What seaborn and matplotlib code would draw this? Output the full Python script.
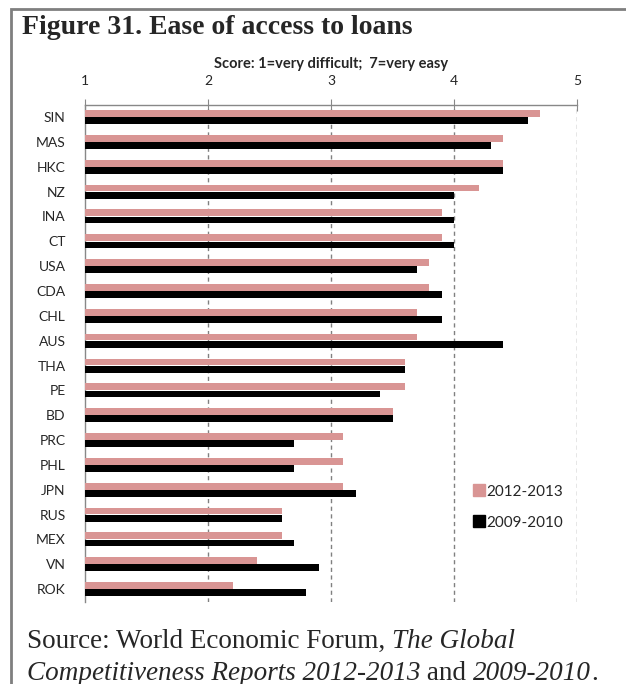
import numpy as np
import pandas as pd
import matplotlib
matplotlib.use('Agg')
import matplotlib.pyplot as plt
import seaborn as sns
from matplotlib.lines import Line2D
from matplotlib.patches import Rectangle

# Dados
paises = ['SIN', 'MAS', 'HKC', 'NZ', 'INA', 'CT', 'USA', 'CDA', 'CHL', 'AUS',
          'THA', 'PE', 'BD', 'PRC', 'PHL', 'JPN', 'RUS', 'MEX', 'VN', 'ROK']
score_2012 = [4.7, 4.4, 4.4, 4.2, 3.9, 3.9, 3.8, 3.8, 3.7, 3.7,
              3.6, 3.6, 3.5, 3.1, 3.1, 3.1, 2.6, 2.6, 2.4, 2.2]
score_2009 = [4.6, 4.3, 4.4, 4.0, 4.0, 4.0, 3.7, 3.9, 3.9, 4.4,
              3.6, 3.4, 3.5, 2.7, 2.7, 3.2, 2.6, 2.7, 2.9, 2.8]
periodos = ['2012-2013', '2009-2010']
x_ticks = [1, 2, 3, 4, 5]

cores = {'2012-2013': '#d99594', '2009-2010': '#000000'}

df = pd.DataFrame({'pais': paises, '2012-2013': score_2012, '2009-2010': score_2009})
df = df.melt(id_vars='pais', var_name='periodo', value_name='score')

sns.set_style('white')
plt.rcParams['font.family'] = ['Lato', 'DejaVu Sans']

fig = plt.figure(figsize=(6.26, 6.84), dpi=100)
ax = fig.add_axes([85 / 626, 1 - 601.5 / 684, (577 - 85) / 626, (601.5 - 104.7) / 684])

sns.barplot(data=df, y='pais', x='score', hue='periodo', hue_order=periodos,
            orient='h', palette=cores, width=0.58, gap=0.06, saturation=1,
            linewidth=0, ax=ax, legend=False, zorder=3)

ax.set_xlim(1, 5)
ax.set_ylim(len(paises) - 0.5, -0.5)
ax.xaxis.tick_top()
ax.xaxis.set_label_position('top')
ax.set_xticks(x_ticks)
ax.set_xticklabels([str(t) for t in x_ticks], fontsize=10)
ax.set_xlabel('Score: 1=very difficult;  7=very easy', fontsize=10.5,
              fontweight='bold', labelpad=5)
ax.set_ylabel('')
ax.tick_params(axis='x', direction='inout', length=9, color='#888888', pad=8)
ax.tick_params(axis='y', length=0, labelsize=10, pad=14)
ax.set_yticks(np.arange(-0.5, len(paises) + 0.5), minor=True)
ax.tick_params(axis='y', which='minor', direction='out', length=5, color='#888888')

# linhas de grade tracejadas
for x in x_ticks[1:]:
    ax.axvline(x, color='#808080', linestyle=(0, (3, 2.5)), linewidth=1, zorder=1)

for lado in ['right', 'bottom']:
    ax.spines[lado].set_visible(False)
for lado in ['top', 'left']:
    ax.spines[lado].set_color('#888888')
    ax.spines[lado].set_linewidth(1)

handles = [Line2D([0], [0], marker='s', linestyle='', markersize=8,
                  markerfacecolor=cores[p], markeredgecolor=cores[p]) for p in periodos]
ax.legend(handles, periodos, loc='center left', bbox_to_anchor=(0.765, 0.19),
          frameon=False, fontsize=11, handlelength=0.5, handletextpad=0.25,
          labelspacing=1.1)

# moldura cinza
fig.patches.append(Rectangle((11 / 626, -0.1), 1.2, 1 - 9 / 684 + 0.1,
                             transform=fig.transFigure, fill=False,
                             edgecolor='#7f7f7f', linewidth=2))

fig.text(22 / 626, 1 - 28 / 684, 'Figure 31. Ease of access to loans',
         family='Liberation Serif', fontweight='bold', fontsize=20, va='center')

# fonte com partes em itálico
linhas = [[('Source: World Economic Forum, ', 'normal'), ('The Global', 'italic')],
          [('Competitiveness Reports 2012-2013', 'italic'), (' and ', 'normal'),
           ('2009-2010', 'italic'), ('.', 'normal')]]
fig.canvas.draw()
renderer = fig.canvas.get_renderer()
for i, partes in enumerate(linhas):
    x_px = 27
    y = 1 - (641 + 32 * i) / 684
    for texto, estilo in partes:
        t = fig.text(x_px / 626, y, texto, family='Liberation Serif', style=estilo,
                     fontsize=19.5, va='center')
        x_px += t.get_window_extent(renderer).width

fig.savefig('out.png', dpi=100)
